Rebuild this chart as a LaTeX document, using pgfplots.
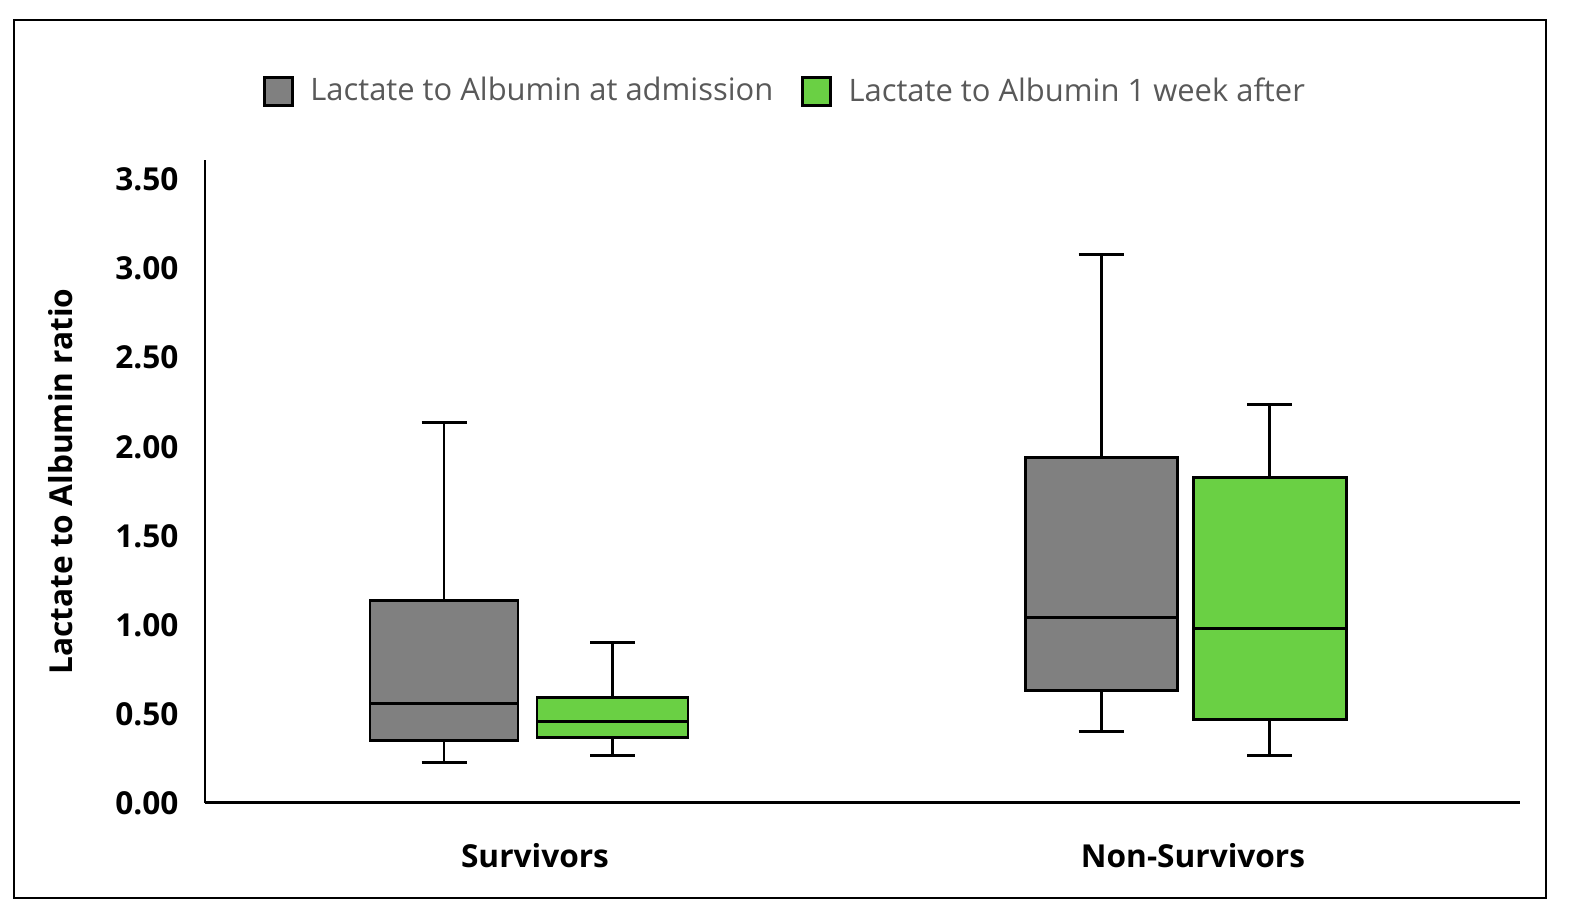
\documentclass[border=0pt]{standalone}
\usepackage{fontspec}
\setmainfont{Open Sans}
\usepackage{pgfplots}
\pgfplotsset{compat=1.18}
\usepgfplotslibrary{statistics}
\definecolor{boxgray}{HTML}{808080}
\definecolor{boxgreen}{HTML}{6AD044}
\definecolor{legtext}{HTML}{595959}
\begin{document}
\begin{tikzpicture}
\useasboundingbox (-20.5mm,-11.3mm) rectangle (136.5mm,80.3mm);
\draw[line width=0.8pt] (-19.1mm,-9.5mm) rectangle (134.1mm,78.3mm);
\begin{axis}[
    at={(0,0)}, anchor=south west,
    scale only axis,
    width=131.5mm, height=64.3mm,
    xmin=0, xmax=13.15,
    ymin=0, ymax=3.61,
    axis lines=left,
    axis line style={-, line width=0.85pt},
    major tick length=0pt,
    boxplot/draw direction=y,
    ytick={0,0.5,...,3.5},
    /pgf/number format/fixed,
    /pgf/number format/fixed zerofill,
    /pgf/number format/precision=2,
    /pgf/number format/assume math mode=true,
    yticklabel style={font=\bfseries\fontsize{9}{10}\selectfont, xshift=-4pt},
    xtick={3.30,9.88},
    xticklabels={Survivors,Non-Survivors},
    xticklabel style={font=\bfseries\fontsize{9}{10}\selectfont, yshift=-8pt},
    ylabel={Lactate to Albumin ratio},
    ylabel style={font=\bfseries\fontsize{9}{10}\selectfont, at={(axis description cs:-0.110,0.5)}, anchor=center},
    legend columns=2,
    legend style={draw=none, at={(0.443,1.106)}, anchor=center,
        font=\fontsize{8.8}{10}\selectfont, text=legtext,
        /tikz/every even column/.append style={column sep=6pt}},
    legend cell align=left,
]
\addlegendimage{legend image code/.code={\draw[fill=boxgray, draw=black, line width=0.85pt] (0.05cm,-0.14cm) rectangle (0.33cm,0.14cm); \path (0.43cm,0);}}
\addlegendentry{Lactate to Albumin at admission}
\addlegendimage{legend image code/.code={\draw[fill=boxgreen, draw=black, line width=0.85pt] (0.05cm,-0.14cm) rectangle (0.33cm,0.14cm); \path (0.43cm,0);}}
\addlegendentry{Lactate to Albumin 1 week after}

\addplot[draw=black, fill=boxgray, line width=0.85pt, forget plot,
  boxplot prepared={draw position=2.39, lower whisker=0.23, lower quartile=0.35,
    median=0.56, upper quartile=1.135, upper whisker=2.135, box extend=1.48, whisker extend=0.45}]
  coordinates {};
\addplot[draw=black, fill=boxgreen, line width=0.85pt, forget plot,
  boxplot prepared={draw position=4.075, lower whisker=0.265, lower quartile=0.365,
    median=0.46, upper quartile=0.595, upper whisker=0.90, box extend=1.51, whisker extend=0.45}]
  coordinates {};
\addplot[draw=black, fill=boxgray, line width=0.85pt, forget plot,
  boxplot prepared={draw position=8.96, lower whisker=0.40, lower quartile=0.63,
    median=1.04, upper quartile=1.94, upper whisker=3.08, box extend=1.52, whisker extend=0.45}]
  coordinates {};
\addplot[draw=black, fill=boxgreen, line width=0.85pt, forget plot,
  boxplot prepared={draw position=10.645, lower whisker=0.264, lower quartile=0.466,
    median=0.98, upper quartile=1.83, upper whisker=2.236, box extend=1.53, whisker extend=0.45}]
  coordinates {};
\end{axis}
\end{tikzpicture}
\end{document}
